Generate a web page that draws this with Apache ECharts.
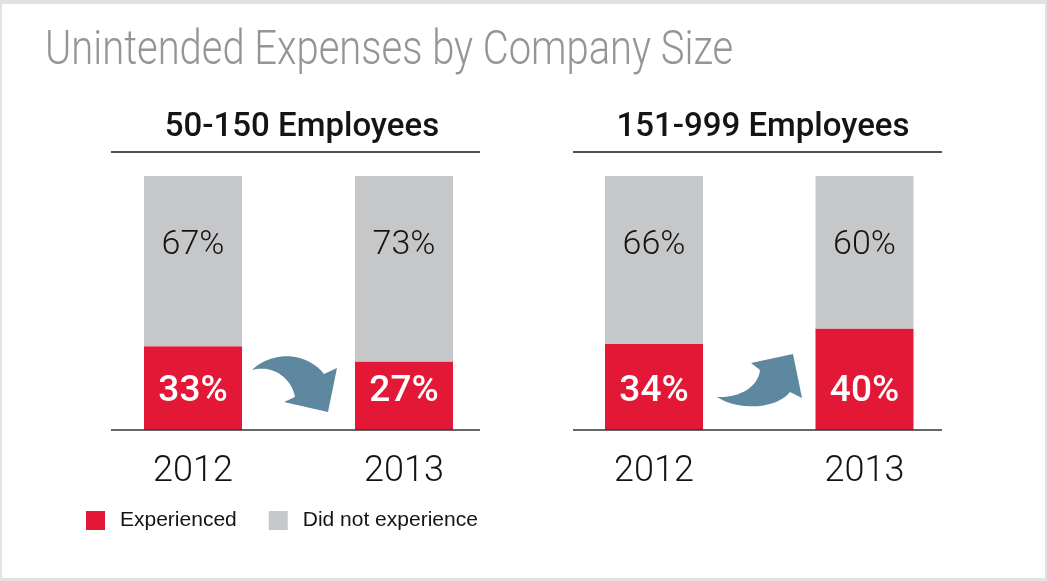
<!DOCTYPE html>
<html>
<head>
<meta charset="utf-8">
<script src="https://cdn.jsdelivr.net/npm/echarts@6/dist/echarts.min.js"></script>
<style>
  html, body { margin: 0; padding: 0; width: 1047px; height: 581px; background: #e2e2e2; overflow: hidden; }
  #card { position: absolute; left: 2px; top: 4px; width: 1043px; height: 574px; background: #ffffff; }
  #chart { position: absolute; left: 0; top: 0; width: 1047px; height: 581px; }
</style>
</head>
<body>
<div id="card"></div>
<div id="chart"></div>
<script>
// Survey shares (%) by company size and year
const years = ['2012', '2013'];
const panelTitles = ['50-150 Employees', '151-999 Employees'];
const seriesNames = ['Experienced', 'Did not experience'];
const experienced50to150 = [33, 27];
const notExperienced50to150 = [67, 73];
const experienced151to999 = [34, 40];
const notExperienced151to999 = [66, 60];

const RED = '#e31837';
const GREY = '#c6c7c9';
const ARROW = '#5e87a0';
const INK = '#141414';
const SANS = "Roboto, 'Liberation Sans', sans-serif";

const panels = [
  { exp: experienced50to150, not: notExperienced50to150 },
  { exp: experienced151to999, not: notExperienced151to999 }
];

const chart = echarts.init(document.getElementById('chart'), null, { renderer: 'canvas' });

const series = [];
panels.forEach((p, i) => {
  series.push({
    type: 'bar', name: seriesNames[0], xAxisIndex: i, yAxisIndex: i, stack: 'panel' + i,
    data: p.exp, barWidth: 98, itemStyle: { color: RED },
    label: {
      show: true, position: 'insideBottom', distance: 20, formatter: '{c}%',
      color: '#ffffff', fontSize: 37, fontWeight: 500, fontFamily: SANS
    }
  });
  series.push({
    type: 'bar', name: seriesNames[1], xAxisIndex: i, yAxisIndex: i, stack: 'panel' + i,
    data: p.not, barWidth: 98, itemStyle: { color: GREY },
    label: {
      show: true, position: 'insideTop', distance: 52, formatter: '{c}%',
      color: INK, fontSize: 34, fontWeight: 300, fontFamily: SANS
    }
  });
});

chart.setOption({
  animation: false,
  legend: {
    data: seriesNames, left: 81, top: 505, icon: 'rect', itemWidth: 19, itemHeight: 19,
    itemGap: 32, selectedMode: false,
    textStyle: { fontSize: 21, color: INK, fontFamily: "'Liberation Sans', sans-serif", padding: [0, 0, 0, 10] }
  },
  grid: [
    { left: 87.5, top: 176, width: 422, height: 254 },
    { left: 548.75, top: 176, width: 421, height: 254 }
  ],
  xAxis: [0, 1].map(i => ({
    type: 'category', gridIndex: i, data: years,
    axisLine: { show: false }, axisTick: { show: false },
    axisLabel: { fontSize: 36, fontWeight: 300, color: INK, margin: 24, fontFamily: SANS }
  })),
  yAxis: [0, 1].map(i => ({ type: 'value', gridIndex: i, min: 0, max: 100, show: false })),
  series: series
});

// Curved trend arrows, outlined with cubic segments relative to the gap centre
const downArrow = [
  ['M', -46.5, -60], ['C', -28.5, -78, 6.5, -80, 25.5, -56], ['L', 38.5, -62], ['L', 29.5, -18],
  ['L', -14.5, -28], ['L', -3.5, -33], ['C', -6.5, -50, -23.5, -66, -46.5, -60]
];
const upArrow = [
  ['M', -42.25, -33], ['C', -19.25, -18, 18.75, -22, 30.75, -38], ['L', 42.75, -32], ['L', 33.75, -76],
  ['L', -8.25, -67], ['L', 0.75, -60], ['C', -1.25, -42, -21.25, -32, -42.25, -33]
];
function outline(cmds) {
  const pts = [];
  let cx = 0, cy = 0;
  cmds.forEach(c => {
    if (c[0] === 'M' || c[0] === 'L') {
      cx = c[1]; cy = c[2]; pts.push([cx, cy]);
    } else {
      const [, x1, y1, x2, y2, x3, y3] = c;
      for (let k = 1; k <= 20; k++) {
        const t = k / 20, u = 1 - t;
        pts.push([
          u * u * u * cx + 3 * u * u * t * x1 + 3 * u * t * t * x2 + t * t * t * x3,
          u * u * u * cy + 3 * u * u * t * y1 + 3 * u * t * t * y2 + t * t * t * y3
        ]);
      }
      cx = x3; cy = y3;
    }
  });
  return pts;
}
const arrows = [downArrow, upArrow];
const rules = [[111, 480], [573, 942]];
const headingX = [302, 763];

const graphic = [{
  type: 'text', x: 45, y: 52, scaleX: 0.815, z: 100,
  style: {
    text: 'Unintended Expenses by Company Size', verticalAlign: 'middle',
    fontSize: 49, fontWeight: 300, fontFamily: SANS, fill: '#939598'
  }
}];
[0, 1].forEach(i => {
  const a = chart.convertToPixel({ xAxisIndex: i, yAxisIndex: i }, [0, 0]);
  const b = chart.convertToPixel({ xAxisIndex: i, yAxisIndex: i }, [1, 0]);
  graphic.push({
    type: 'text', x: headingX[i], y: 128, z: 100,
    style: { text: panelTitles[i], align: 'center', verticalAlign: 'middle', fontSize: 33, fontWeight: 500, fontFamily: SANS, fill: INK }
  });
  graphic.push({
    type: 'line', z: 100, shape: { x1: rules[i][0], y1: 152, x2: rules[i][1], y2: 152 },
    style: { stroke: '#1a1a1a', lineWidth: 1.5 }
  });
  graphic.push({
    type: 'line', z: 100, shape: { x1: rules[i][0], y1: a[1], x2: rules[i][1], y2: a[1] },
    style: { stroke: '#333333', lineWidth: 1.5 }
  });
  graphic.push({
    type: 'polygon', z: 100, x: (a[0] + b[0]) / 2, y: a[1],
    shape: { points: outline(arrows[i]) }, style: { fill: ARROW }
  });
});
chart.setOption({ graphic: graphic });
</script>
</body>
</html>
